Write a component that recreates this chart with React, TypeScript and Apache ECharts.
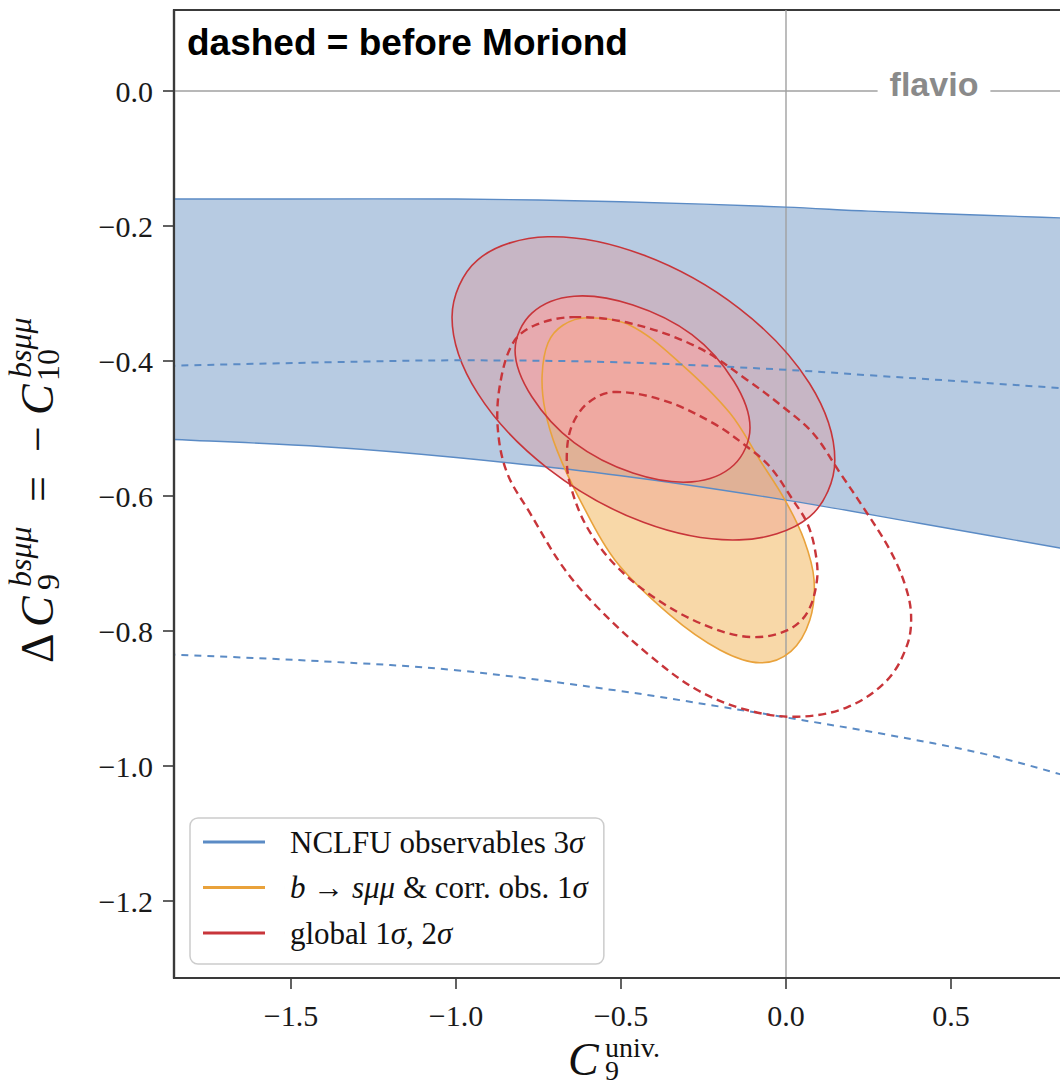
import React, { useEffect, useRef } from "react";
import * as echarts from "echarts";

// ---------- axis set-up ----------
const X_MIN = -1.8545;
const X_MAX = 0.8606;
const Y_MIN = -1.314;
const Y_MAX = 0.12;
const xTicks = [-1.5, -1.0, -0.5, 0.0, 0.5];
const yTicks = [0.0, -0.2, -0.4, -0.6, -0.8, -1.0, -1.2];

// ---------- series names ----------
const NAME_BAND = "NCLFU observables 3σ";
const NAME_BSMM = "b → sμμ & corr. obs. 1σ";
const NAME_GLOBAL = "global 1σ, 2σ";
const legendRich: Record<string, string> = {
  [NAME_BAND]: "NCLFU observables 3{i|σ}",
  [NAME_BSMM]: "{i|b} → {i|sμμ} & corr. obs. 1{i|σ}",
  [NAME_GLOBAL]: "global 1{i|σ}, 2{i|σ}",
};

// ---------- data (C9univ, ΔC9 = −C10) ----------
const bandUpper = [[-2.3, -0.16], [-2.1, -0.16], [-1.95, -0.16], [-1.5, -0.16], [-1.0, -0.16], [-0.5, -0.164], [0.0, -0.172], [0.25, -0.178], [0.6, -0.184], [0.95, -0.19], [1.1, -0.192], [1.3, -0.195]];
const bandLower = [[-2.3, -0.506], [-2.1, -0.51], [-1.95, -0.514], [-1.4, -0.527], [-1.0, -0.543], [-0.5, -0.57], [0.0, -0.606], [0.4, -0.64], [0.83, -0.677], [0.95, -0.688], [1.1, -0.702], [1.3, -0.72]];
const dashedUpper = [[-1.95, -0.408], [-1.4, -0.402], [-1.0, -0.399], [-0.5, -0.402], [0.0, -0.413], [0.25, -0.421], [0.83, -0.44], [0.95, -0.444]];
const dashedLower = [[-1.95, -0.833], [-1.4, -0.845], [-1.0, -0.858], [-0.5, -0.889], [-0.2, -0.912], [0.0, -0.928], [0.3, -0.953], [0.6, -0.982], [0.83, -1.012], [0.95, -1.03]];

const orange1s = [[-0.603, -0.336], [-0.473, -0.347], [-0.321, -0.403], [-0.17, -0.477], [-0.079, -0.547], [-0.003, -0.606], [0.055, -0.665], [0.085, -0.724], [0.072, -0.784], [0.015, -0.83], [-0.079, -0.847], [-0.2, -0.828], [-0.352, -0.776], [-0.518, -0.695], [-0.624, -0.606], [-0.694, -0.532], [-0.73, -0.473], [-0.739, -0.421], [-0.721, -0.373], [-0.676, -0.347]];
const global2s = [[0.148, -0.547], [0.071, -0.433], [-0.142, -0.322], [-0.432, -0.243], [-0.722, -0.216], [-0.934, -0.25], [-1.012, -0.335], [-0.934, -0.448], [-0.722, -0.559], [-0.432, -0.639], [-0.142, -0.665], [0.071, -0.631]];
const global1s = [[-0.109, -0.499], [-0.158, -0.43], [-0.285, -0.361], [-0.464, -0.317], [-0.642, -0.304], [-0.77, -0.329], [-0.821, -0.384], [-0.77, -0.453], [-0.642, -0.521], [-0.464, -0.566], [-0.285, -0.579], [-0.158, -0.554]];
const oldGlobal2s = [[-0.645, -0.335], [-0.473, -0.344], [-0.27, -0.379], [-0.118, -0.428], [-0.009, -0.468], [0.082, -0.507], [0.164, -0.566], [0.233, -0.616], [0.315, -0.68], [0.361, -0.732], [0.379, -0.776], [0.367, -0.821], [0.306, -0.873], [0.185, -0.913], [0.033, -0.927], [-0.118, -0.917], [-0.27, -0.887], [-0.421, -0.833], [-0.573, -0.764], [-0.676, -0.705], [-0.776, -0.625], [-0.845, -0.566], [-0.873, -0.502], [-0.867, -0.436], [-0.827, -0.373], [-0.761, -0.347]];
const oldGlobal1s = [[-0.524, -0.446], [-0.373, -0.458], [-0.221, -0.492], [-0.118, -0.527], [-0.048, -0.557], [0.021, -0.606], [0.064, -0.64], [0.088, -0.68], [0.094, -0.724], [0.064, -0.773], [0.003, -0.799], [-0.1, -0.809], [-0.221, -0.796], [-0.373, -0.759], [-0.512, -0.705], [-0.603, -0.646], [-0.655, -0.581], [-0.664, -0.536], [-0.648, -0.495], [-0.6, -0.462]];

// ---------- styles ----------
const BLUE_FILL = "#b7cbe2";
const BLUE_LINE = "#5b8bc5";
const ORANGE_FILL = "rgba(243,190,110,0.6)";
const ORANGE_LINE = "#e9a23b";
const RED_FILL_2S = "rgba(235,140,140,0.33)";
const RED_FILL_1S = "rgba(245,165,165,0.7)";
const RED_LINE = "#c8353a";
const SMOOTH = 0.35;
const SERIF = "Liberation Serif";

const fmt = (v: number) => (v < 0 ? "\u2212" + (-v).toFixed(1) : v.toFixed(1));

const pts = (api: any, arr: number[][]) => arr.map((p) => api.coord(p));

function txt(text: string, x: number, y: number, o: any = {}) {
  return {
    type: "text",
    x,
    y,
    rotation: o.rotation || 0,
    z: 60,
    silent: true,
    style: {
      text,
      x: 0,
      y: 0,
      fill: o.color || "#111",
      fontFamily: o.family || SERIF,
      fontSize: o.size || 30,
      fontStyle: o.italic ? "italic" : "normal",
      fontWeight: o.bold ? "bold" : "normal",
      lineHeight: o.lineHeight,
      align: o.align || "left",
      verticalAlign: "middle",
      backgroundColor: o.bg,
      padding: o.padding,
    },
  };
}

export default function App() {
  const ref = useRef<HTMLDivElement>(null);
  useEffect(() => {
    if (!ref.current) return;
    const chart = echarts.init(ref.current, undefined, { renderer: "svg" });
    const R = Math.PI / 2;
    const BIG = 46;
    const SMALL = 32;
    const option: any = {
      animation: false,
      backgroundColor: "#ffffff",
      grid: {
        left: 174,
        top: 10,
        right: 0,
        bottom: 107,
        show: true,
        borderColor: "#3a3a3a",
        borderWidth: 2.2,
        backgroundColor: "#ffffff",
      },
      xAxis: {
        type: "value",
        min: X_MIN,
        max: X_MAX,
        z: 10,
        axisLine: { show: true, onZero: false, lineStyle: { color: "#3a3a3a", width: 2.2 } },
        axisTick: { show: true, inside: false, length: 11, customValues: xTicks, lineStyle: { color: "#3a3a3a", width: 1.6 } },
        axisLabel: { customValues: xTicks, formatter: fmt, fontFamily: SERIF, fontSize: 30, color: "#1a1a1a", margin: 22 },
        splitLine: { show: false },
      },
      yAxis: {
        type: "value",
        min: Y_MIN,
        max: Y_MAX,
        z: 10,
        axisLine: { show: true, onZero: false, lineStyle: { color: "#3a3a3a", width: 2.2 } },
        axisTick: { show: true, inside: false, length: 11, customValues: yTicks, lineStyle: { color: "#3a3a3a", width: 1.6 } },
        axisLabel: { customValues: yTicks, formatter: fmt, fontFamily: SERIF, fontSize: 30, color: "#1a1a1a", margin: 21 },
        splitLine: { show: false },
      },
      legend: {
        data: [NAME_BAND, NAME_BSMM, NAME_GLOBAL],
        orient: "vertical",
        left: 190,
        top: 818,
        selectedMode: false,
        icon: "path://M0 0H62V3H0Z M82 0H82.01V3H82Z",
        itemWidth: 82,
        itemHeight: 3,
        itemGap: 11.5,
        padding: [7, 16, 14, 13],
        backgroundColor: "rgba(255,255,255,0.85)",
        borderColor: "#cccccc",
        borderWidth: 1.5,
        borderRadius: 8,
        formatter: (name: string) => legendRich[name] || name,
        textStyle: {
          fontFamily: SERIF,
          fontSize: 31,
          lineHeight: 34,
          color: "#111",
          rich: {
            i: { fontFamily: SERIF, fontSize: 31, fontStyle: "italic", color: "#111", lineHeight: 34 },
          },
        },
      },
      series: [
        {
          type: "custom",
          name: NAME_BAND,
          coordinateSystem: "cartesian2d",
          clip: true,
          silent: true,
          itemStyle: { color: BLUE_LINE },
          data: [[0, 0]],
          renderItem: (_p: any, api: any) => ({
            type: "polygon",
            shape: { points: [...pts(api, bandUpper), ...pts(api, bandLower).reverse()], smooth: SMOOTH },
            style: { fill: BLUE_FILL, stroke: "none" },
          }),
        },
        {
          type: "custom",
          name: NAME_BSMM,
          coordinateSystem: "cartesian2d",
          clip: true,
          silent: true,
          itemStyle: { color: ORANGE_LINE },
          data: [[0, 0]],
          renderItem: (_p: any, api: any) => ({
            type: "polygon",
            shape: { points: pts(api, orange1s), smooth: SMOOTH },
            style: { fill: ORANGE_FILL, stroke: "none" },
          }),
        },
        {
          type: "custom",
          name: NAME_GLOBAL,
          coordinateSystem: "cartesian2d",
          clip: true,
          silent: true,
          itemStyle: { color: RED_LINE },
          data: [[0, 0]],
          renderItem: (_p: any, api: any) => ({
            type: "group",
            children: [
              { type: "polygon", shape: { points: pts(api, global2s), smooth: SMOOTH }, style: { fill: RED_FILL_2S, stroke: "none" } },
              { type: "polygon", shape: { points: pts(api, global1s), smooth: SMOOTH }, style: { fill: RED_FILL_1S, stroke: "none" } },
            ],
          }),
        },
        {
          type: "custom",
          name: "lines",
          coordinateSystem: "cartesian2d",
          clip: true,
          silent: true,
          data: [[0, 0]],
          renderItem: (_p: any, api: any) => ({
            type: "group",
            children: [
              { type: "polyline", shape: { points: pts(api, [[X_MIN, 0], [X_MAX, 0]]) }, style: { stroke: "#a0a0a0", lineWidth: 1.4, fill: "none" } },
              { type: "polyline", shape: { points: pts(api, [[0, Y_MIN], [0, Y_MAX]]) }, style: { stroke: "#a0a0a0", lineWidth: 1.4, fill: "none" } },
              { type: "polyline", shape: { points: pts(api, bandUpper), smooth: SMOOTH }, style: { stroke: BLUE_LINE, lineWidth: 1.4, fill: "none" } },
              { type: "polyline", shape: { points: pts(api, bandLower), smooth: SMOOTH }, style: { stroke: BLUE_LINE, lineWidth: 1.4, fill: "none" } },
              { type: "polygon", shape: { points: pts(api, orange1s), smooth: SMOOTH }, style: { stroke: ORANGE_LINE, lineWidth: 1.6, fill: "none" } },
              { type: "polygon", shape: { points: pts(api, global2s), smooth: SMOOTH }, style: { stroke: RED_LINE, lineWidth: 1.6, fill: "none" } },
              { type: "polygon", shape: { points: pts(api, global1s), smooth: SMOOTH }, style: { stroke: RED_LINE, lineWidth: 1.6, fill: "none" } },
              { type: "polyline", shape: { points: pts(api, dashedUpper), smooth: SMOOTH }, style: { stroke: BLUE_LINE, lineWidth: 2, lineDash: [7, 6], fill: "none" } },
              { type: "polyline", shape: { points: pts(api, dashedLower), smooth: SMOOTH }, style: { stroke: BLUE_LINE, lineWidth: 2, lineDash: [7, 6], fill: "none" } },
              { type: "polygon", shape: { points: pts(api, oldGlobal2s), smooth: SMOOTH }, style: { stroke: RED_LINE, lineWidth: 2.4, lineDash: [8, 5], fill: "none" } },
              { type: "polygon", shape: { points: pts(api, oldGlobal1s), smooth: SMOOTH }, style: { stroke: RED_LINE, lineWidth: 2.4, lineDash: [8, 5], fill: "none" } },
            ],
          }),
        },
      ],
      graphic: [
        txt("dashed = before Moriond", 187, 42, { family: "Liberation Sans", size: 37, bold: true, color: "#000" }),
        txt("flavio", 934, 84, { family: "Liberation Sans", size: 34, bold: true, color: "#8a8a8a", align: "center", bg: "#ffffff", padding: [2, 12, 2, 12] }),
        // x-axis title: C_9^{univ.}  (superscript and subscript stacked in one two-line text)
        txt("C", 568, 1059.5, { size: BIG, italic: true, lineHeight: 40 }),
        txt("univ.\n9", 605, 1059, { size: 28, lineHeight: 23 }),
        // y-axis title: ΔC_9^{bsμμ} = −C_10^{bsμμ}
        txt("Δ", 37.5, 663, { size: BIG, rotation: R }),
        txt("C", 37.5, 627, { size: BIG, italic: true, rotation: R }),
        txt("9", 48, 590, { size: SMALL, rotation: R }),
        txt("bsμμ", 20, 587, { size: SMALL, italic: true, rotation: R }),
        txt("=", 37.5, 502, { size: BIG, rotation: R }),
        txt("\u2212", 37.5, 452, { size: BIG, rotation: R }),
        txt("C", 37.5, 415, { size: BIG, italic: true, rotation: R }),
        txt("10", 48, 381, { size: SMALL, rotation: R }),
        txt("bsμμ", 20, 378, { size: SMALL, italic: true, rotation: R }),
      ],
    };
    chart.setOption(option);
    return () => chart.dispose();
  }, []);
  return (
    <div style={{ position: "absolute", left: 0, top: 0, width: 1060, height: 1085, overflow: "hidden" }}>
      <div ref={ref} style={{ width: 1070, height: 1085 }} />
    </div>
  );
}
